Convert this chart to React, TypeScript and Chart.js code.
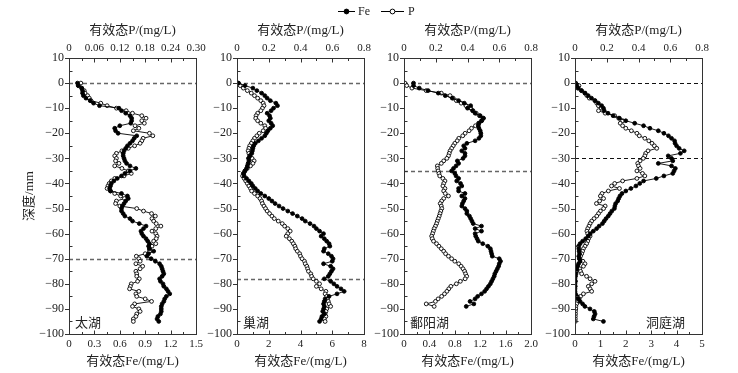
import React, { useEffect, useRef } from 'react';
import { Chart, registerables } from 'chart.js';

Chart.register(...registerables);

// ---------- data ----------
const depthA = [0,-1,-2,-3,-4,-5,-6,-7,-8,-9,-10,-11,-12,-13,-14,-15,-16,-17,-18,-19,-20,-21,-22,-23,-24,-25,-26,-27,-28,-29,-30,-31,-32,-33,-34,-35,-36,-37,-38,-39,-40,-41,-42,-43,-44,-45,-46,-47,-48,-49,-50,-51,-52,-53,-54,-55,-56,-57,-58,-59,-60,-61,-62,-63,-64,-65,-66,-67,-68,-69,-70,-71,-72,-73,-74,-75,-76,-77,-78,-79,-80,-81,-82,-83,-84,-85,-86,-87,-88,-89,-90,-91,-92,-93,-94,-95];
const depthB = [0,-1,-2,-3,-4,-5,-6,-7,-8,-9,-10,-11,-12,-13,-14,-15,-16,-17,-18,-19,-20,-21,-22,-23,-24,-25,-26,-27,-28,-29,-30,-31,-32,-33,-34,-35,-36,-37,-38,-39,-40,-41,-42,-43,-44,-45,-46,-47,-48,-49,-50,-51,-52,-53,-54,-55,-56,-57,-58,-59,-60,-61,-62,-63,-64,-65,-66,-67,-68,-69,-70,-71,-72,-73,-74,-75,-76,-77,-78,-79,-80,-81,-82,-83,-84,-85,-86,-87,-88,-89];

const taihuFe = [0.10,0.11,0.15,0.16,0.16,0.17,0.20,0.25,0.29,0.36,
 0.59,0.62,0.67,0.72,0.74,0.74,0.73,0.60,0.54,0.55,
 0.58,0.80,0.77,0.75,0.72,0.69,0.67,0.65,0.64,0.64,
 0.65,0.66,0.68,0.72,0.79,0.72,0.66,0.62,0.57,0.53,
 0.50,0.49,0.48,0.49,0.62,0.69,0.70,0.67,0.65,0.63,
 0.62,0.62,0.64,0.66,0.72,0.75,0.83,0.91,0.88,0.85,
 0.86,0.88,0.91,0.93,0.95,0.94,0.95,1.00,0.94,0.92,
 0.97,1.02,1.07,1.09,1.10,1.11,1.12,1.10,1.07,1.08,
 1.11,1.12,1.15,1.17,1.19,1.15,1.13,1.12,1.10,1.09,
 1.09,1.09,1.08,1.05,1.04,1.06];
const taihuP = [0.028,0.022,0.030,0.036,0.038,0.044,0.048,0.052,0.075,0.090,
 0.112,0.135,0.150,0.172,0.182,0.172,0.178,0.156,0.165,0.152,
 0.190,0.198,0.175,0.172,0.168,0.155,0.140,0.125,0.112,0.108,
 0.112,0.110,0.118,0.108,0.125,0.140,0.147,0.130,0.108,0.100,
 0.095,0.092,0.090,0.098,0.108,0.122,0.131,0.112,0.110,0.120,
 0.160,0.176,0.195,0.204,0.196,0.200,0.206,0.217,0.205,0.196,
 0.205,0.208,0.206,0.200,0.205,0.196,0.190,0.190,0.180,0.159,
 0.165,0.168,0.158,0.174,0.168,0.158,0.160,0.160,0.166,0.162,
 0.147,0.145,0.143,0.165,0.158,0.160,0.180,0.195,0.155,0.150,
 0.165,0.168,0.160,0.158,0.152,0.152];

const chaohuFe = [0.1,0.5,1.0,1.25,1.55,1.75,1.9,2.1,2.45,2.55,
 2.3,2.15,1.9,2.05,2.1,2.0,2.15,2.25,2.1,1.95,
 1.85,1.75,1.55,1.35,1.15,1.05,1.0,0.97,0.93,0.82,
 0.72,0.75,0.7,0.65,0.6,0.5,0.42,0.45,0.6,0.75,
 0.9,1.0,1.15,1.3,1.5,1.75,2.0,2.2,2.4,2.65,
 2.9,3.2,3.5,3.8,4.1,4.3,4.6,4.85,5.0,5.2,
 5.45,5.3,5.5,5.65,5.8,5.85,5.5,5.45,5.75,5.95,
 6.05,6.0,5.45,5.9,6.05,5.95,5.85,5.75,5.5,5.9,
 6.1,6.3,6.55,6.75,6.3,5.8,5.55,5.5,5.45,5.5,
 5.45,5.4,5.5,5.35,5.3,5.2];
const chaohuP = [0.004,0.02,0.04,0.065,0.09,0.11,0.13,0.15,0.165,0.17,
 0.16,0.15,0.13,0.12,0.118,0.13,0.15,0.175,0.18,0.165,
 0.14,0.125,0.11,0.10,0.09,0.08,0.075,0.07,0.075,0.08,
 0.095,0.108,0.10,0.085,0.065,0.05,0.04,0.035,0.045,0.055,
 0.065,0.075,0.085,0.092,0.11,0.13,0.145,0.155,0.16,0.17,
 0.18,0.19,0.205,0.22,0.235,0.26,0.285,0.30,0.32,0.335,
 0.32,0.31,0.33,0.345,0.355,0.365,0.37,0.38,0.395,0.40,
 0.41,0.425,0.43,0.44,0.445,0.45,0.465,0.47,0.48,0.50,
 0.52,0.50,0.53,0.56,0.555,0.565,0.57,0.575,0.58,0.59,
 0.565,0.56,0.555,0.56,0.55,0.555];

const poyangFe = [0.15,0.15,0.24,0.38,0.54,0.65,0.76,0.86,0.95,1.05,
 1.00,1.08,1.12,1.20,1.25,1.22,1.18,1.17,1.18,1.20,
 1.21,1.21,1.18,1.12,0.99,0.94,0.96,0.91,0.96,0.96,
 0.93,0.84,0.86,0.82,0.78,0.75,0.80,0.82,0.86,0.83,
 0.89,0.91,0.86,0.86,0.96,0.91,0.96,0.94,0.92,0.91,
 0.96,0.99,0.99,1.03,1.05,1.07,1.09,1.22,1.12,1.22,
 1.12,1.13,1.15,1.17,1.24,1.32,1.36,1.37,1.38,1.39,
 1.50,1.52,1.50,1.49,1.47,1.45,1.43,1.42,1.40,1.38,
 1.36,1.33,1.30,1.27,1.22,1.16,1.12,1.04,1.10,0.98];
const poyangP = [0.006,0.017,0.05,0.14,0.235,0.29,0.31,0.33,0.36,0.39,
 0.42,0.435,0.455,0.475,0.50,0.49,0.47,0.45,0.425,0.41,
 0.385,0.37,0.345,0.335,0.32,0.31,0.30,0.29,0.285,0.28,
 0.27,0.25,0.235,0.21,0.212,0.215,0.22,0.225,0.245,0.258,
 0.25,0.245,0.258,0.25,0.26,0.28,0.25,0.237,0.228,0.235,
 0.238,0.232,0.227,0.222,0.216,0.21,0.205,0.198,0.19,0.185,
 0.18,0.174,0.178,0.186,0.205,0.22,0.235,0.25,0.262,0.28,
 0.30,0.32,0.345,0.36,0.372,0.382,0.388,0.395,0.385,0.355,
 0.33,0.295,0.282,0.27,0.255,0.237,0.215,0.198,0.14,0.19];

const dongtingFe = [0.0,0.07,0.13,0.26,0.39,0.52,0.65,0.79,0.92,1.05,
 1.12,1.15,1.3,1.5,1.75,2.0,2.35,2.7,2.95,3.28,
 3.5,3.68,3.8,3.92,3.94,4.0,4.1,4.3,4.15,3.67,
 3.8,3.85,3.28,3.8,3.95,3.9,3.85,3.5,3.2,2.7,
 2.55,2.4,2.2,2.0,1.85,1.77,1.72,1.68,1.6,1.57,
 1.55,1.45,1.38,1.31,1.22,1.15,1.08,0.95,0.85,0.72,
 0.6,0.52,0.42,0.3,0.2,0.14,0.15,0.16,0.18,0.15,
 0.17,0.2,0.14,0.1,0.07,0.06,0.04,0.02,0.0,0.02,
 0.0,0.01,0.0,0.0,0.02,0.08,0.13,0.2,0.3,0.39,
 0.59,0.76,0.79,0.75,0.72,1.12];
const dongtingP = [0.005,0.025,0.017,0.04,0.063,0.075,0.09,0.125,0.137,0.147,
 0.165,0.148,0.19,0.25,0.275,0.30,0.285,0.30,0.32,0.355,
 0.39,0.405,0.44,0.465,0.485,0.50,0.515,0.46,0.445,0.44,
 0.43,0.41,0.395,0.40,0.41,0.39,0.425,0.44,0.39,0.30,
 0.25,0.23,0.28,0.21,0.17,0.16,0.18,0.155,0.135,0.19,
 0.18,0.16,0.148,0.137,0.12,0.105,0.095,0.088,0.08,0.075,
 0.08,0.095,0.085,0.08,0.073,0.063,0.053,0.048,0.042,0.035,
 0.03,0.05,0.063,0.053,0.03,0.035,0.042,0.073,0.095,0.126,
 0.105,0.084,0.095,0.105,0.053,0.035,0.025,0.017,0.01,0.005,
 0.005,0.003,0.003,0.002,0.002,0.002];

const lakeNames = ['太湖', '巢湖', '鄱阳湖', '洞庭湖'];
const seriesNames = ['Fe', 'P'];
const feAxisTitle = '有效态Fe/(mg/L)';
const pAxisTitle = '有效态P/(mg/L)';
const depthTitle = '深度/mm';
const depthTickValues = [10, 0, -10, -20, -30, -40, -50, -60, -70, -80, -90, -100];
const feTickLabels = [
  ['0', '0.3', '0.6', '0.9', '1.2', '1.5'],
  ['0', '2', '4', '6', '8'],
  ['0', '0.4', '0.8', '1.2', '1.6', '2.0'],
  ['0', '1', '2', '3', '4', '5'],
];
const pTickLabels = [
  ['0', '0.06', '0.12', '0.18', '0.24', '0.30'],
  ['0', '0.2', '0.4', '0.6', '0.8'],
  ['0', '0.2', '0.4', '0.6', '0.8'],
  ['0', '0.2', '0.4', '0.6', '0.8'],
];
const dashDepths = [[0, -70], [0, -78], [0, -35], [0, -30]];

const panelDepths = [depthA, depthA, depthB, depthA];
const panelFe = [taihuFe, chaohuFe, poyangFe, dongtingFe];
const panelP = [taihuP, chaohuP, poyangP, dongtingP];

// ---------- layout ----------
const W = 738;
const H = 373;
const PLOT_LEFT = [69, 237, 404, 575];
const PLOT_W = 127;
const SERIF = "'Liberation Serif', 'Noto Sans CJK SC', serif";
const CJK = "'Noto Sans CJK SC', sans-serif";
const INK = '#222';

Chart.defaults.font.family = SERIF;
Chart.defaults.color = INK;

const fmtDepth = (v: number) => (v < 0 ? '\u2212' + Math.abs(v) : String(v));

const decorPlugin = {
  id: 'decor',
  beforeDatasetsDraw(chart: any, _a: any, o: any) {
    const { ctx, chartArea: a } = chart;
    const ys = chart.scales.y;
    ctx.save();
    ctx.strokeStyle = o.dashColor;
    ctx.lineWidth = o.dashWidth;
    ctx.setLineDash([4, 3]);
    o.dashes.forEach((d: number) => {
      const py = Math.round(ys.getPixelForValue(d)) + 0.5;
      ctx.beginPath();
      ctx.moveTo(a.left, py);
      ctx.lineTo(a.right, py);
      ctx.stroke();
    });
    ctx.restore();
  },
  afterDraw(chart: any, _a: any, o: any) {
    const { ctx, chartArea: a, scales } = chart;
    ctx.save();
    ctx.strokeStyle = '#333';
    ctx.lineWidth = 1;
    ctx.strokeRect(a.left + 0.5, a.top + 0.5, a.right - a.left, a.bottom - a.top);
    const seg = (x1: number, y1: number, x2: number, y2: number) => {
      ctx.beginPath();
      ctx.moveTo(x1, y1);
      ctx.lineTo(x2, y2);
      ctx.stroke();
    };
    const xaxes: [any, number, number][] = [
      [scales.xFe, a.bottom + 0.5, -1],
      [scales.xP, a.top + 0.5, 1],
    ];
    xaxes.forEach(([s, base, dir]) => {
      const vals = s.ticks.map((t: any) => t.value);
      vals.forEach((v: number, k: number) => {
        const px = Math.round(s.getPixelForValue(v)) + 0.5;
        seg(px, base, px, base + dir * 4);
        if (k < vals.length - 1) {
          const m = Math.round(s.getPixelForValue((v + vals[k + 1]) / 2)) + 0.5;
          seg(m, base, m, base + dir * 2.5);
        }
      });
    });
    const ys = scales.y;
    const yv = ys.ticks.map((t: any) => t.value);
    yv.forEach((v: number, k: number) => {
      const py = Math.round(ys.getPixelForValue(v)) + 0.5;
      seg(a.left + 0.5, py, a.left - 4, py);
      if (k < yv.length - 1) {
        const m = Math.round(ys.getPixelForValue((v + yv[k + 1]) / 2)) + 0.5;
        seg(a.left + 0.5, m, a.left + 3.5, m);
      }
    });
    // lake name
    ctx.fillStyle = INK;
    ctx.font = '13px ' + CJK;
    ctx.textBaseline = 'middle';
    if (o.labelRight) {
      ctx.textAlign = 'right';
      ctx.fillText(o.label, a.right - 17, 322);
    } else {
      ctx.textAlign = 'left';
      ctx.fillText(o.label, a.left + 6, 322);
    }
    // legend
    if (o.legend) {
      const ds = chart.data.datasets;
      const items = [
        { x0: 338, x1: 355, tx: 358, d: ds[0] },
        { x0: 381, x1: 404, tx: 408, d: ds[1] },
      ];
      const ly = 11.5;
      ctx.font = '12px ' + SERIF;
      ctx.textAlign = 'left';
      items.forEach((it) => {
        ctx.strokeStyle = '#000';
        ctx.lineWidth = 1;
        seg(it.x0, ly, it.x1, ly);
        ctx.beginPath();
        ctx.arc((it.x0 + it.x1) / 2, ly, 2.4, 0, Math.PI * 2);
        ctx.fillStyle = it.d.pointBackgroundColor;
        ctx.fill();
        ctx.stroke();
        ctx.fillStyle = INK;
        ctx.fillText(it.d.label, it.tx, ly);
      });
    }
    ctx.restore();
  },
};

function makeConfig(i: number): any {
  const depth = panelDepths[i];
  const feLabels = feTickLabels[i];
  const pLabels = pTickLabels[i];
  const feVals = feLabels.map(Number);
  const pVals = pLabels.map(Number);
  const left = PLOT_LEFT[i];
  const yW = i === 0 ? left : 40;
  const padLeft = left - yW;
  const padRight = W - (left + PLOT_W);
  const common = {
    showLine: true,
    borderColor: '#000',
    borderWidth: 0.9,
    pointRadius: 1.9,
    pointBorderColor: '#000',
    pointBorderWidth: 0.9,
    yAxisID: 'y',
  };
  return {
    type: 'scatter',
    data: {
      datasets: [
        {
          ...common,
          label: seriesNames[0],
          data: panelFe[i].map((v, k) => ({ x: v, y: depth[k] })),
          xAxisID: 'xFe',
          pointBackgroundColor: '#000',
        },
        {
          ...common,
          label: seriesNames[1],
          data: panelP[i].map((v, k) => ({ x: v, y: depth[k] })),
          xAxisID: 'xP',
          pointBackgroundColor: '#fff',
        },
      ],
    },
    options: {
      responsive: false,
      animation: false,
      events: [],
      layout: { padding: { left: padLeft, right: padRight, top: 20, bottom: 4 } },
      plugins: {
        legend: { display: false },
        tooltip: { enabled: false },
        decor: {
          dashes: dashDepths[i],
          dashColor: i === 3 ? '#111' : '#666',
          dashWidth: i === 3 ? 1 : 1.3,
          label: lakeNames[i],
          labelRight: i === 3,
          legend: i === 0,
        },
      },
      scales: {
        xFe: {
          axis: 'x',
          type: 'linear',
          position: 'bottom',
          min: feVals[0],
          max: feVals[feVals.length - 1],
          afterBuildTicks: (s: any) => {
            s.ticks = feVals.map((v) => ({ value: v }));
          },
          afterFit: (s: any) => {
            s.height = 35;
          },
          ticks: {
            callback: (_v: any, k: number) => feLabels[k],
            font: { size: 11 },
            padding: 4,
            maxRotation: 0,
            minRotation: 0,
            autoSkip: false,
            color: INK,
          },
          grid: { display: false, drawTicks: false },
          border: { display: false },
          title: {
            display: true,
            text: feAxisTitle,
            font: { size: 13 },
            padding: { top: 0, bottom: 0 },
            color: INK,
          },
        },
        xP: {
          axis: 'x',
          type: 'linear',
          position: 'top',
          min: pVals[0],
          max: pVals[pVals.length - 1],
          afterBuildTicks: (s: any) => {
            s.ticks = pVals.map((v) => ({ value: v }));
          },
          afterFit: (s: any) => {
            s.height = 38;
          },
          ticks: {
            callback: (_v: any, k: number) => pLabels[k],
            font: { size: 11 },
            padding: 3,
            maxRotation: 0,
            minRotation: 0,
            autoSkip: false,
            color: INK,
          },
          grid: { display: false, drawTicks: false },
          border: { display: false },
          title: {
            display: true,
            text: pAxisTitle,
            font: { size: 13 },
            padding: { top: 3, bottom: 0 },
            color: INK,
          },
        },
        y: {
          axis: 'y',
          type: 'linear',
          position: 'left',
          min: -100,
          max: 10,
          afterBuildTicks: (s: any) => {
            s.ticks = depthTickValues.map((v) => ({ value: v }));
          },
          afterFit: (s: any) => {
            s.width = yW;
          },
          ticks: {
            callback: (v: any) => fmtDepth(Number(v)),
            font: { size: 12 },
            padding: 5,
            autoSkip: false,
            color: INK,
          },
          grid: { display: false, drawTicks: false },
          border: { display: false },
          title: {
            display: i === 0,
            text: depthTitle,
            font: { size: 13 },
            padding: { top: 22, bottom: 0 },
            color: INK,
          },
        },
      },
    },
    plugins: [decorPlugin],
  };
}

export default function App() {
  const r0 = useRef<HTMLCanvasElement>(null);
  const r1 = useRef<HTMLCanvasElement>(null);
  const r2 = useRef<HTMLCanvasElement>(null);
  const r3 = useRef<HTMLCanvasElement>(null);
  const refs = [r0, r1, r2, r3];

  useEffect(() => {
    const charts = refs.map((r, i) => new Chart(r.current as HTMLCanvasElement, makeConfig(i)));
    return () => charts.forEach((c) => c.destroy());
  }, []);

  return (
    <div style={{ position: 'absolute', left: 0, top: 0, width: W, height: H, background: '#fff' }}>
      {refs.map((r, i) => (
        <canvas
          key={i}
          ref={r}
          width={W}
          height={H}
          style={{ position: 'absolute', left: 0, top: 0 }}
        />
      ))}
    </div>
  );
}
